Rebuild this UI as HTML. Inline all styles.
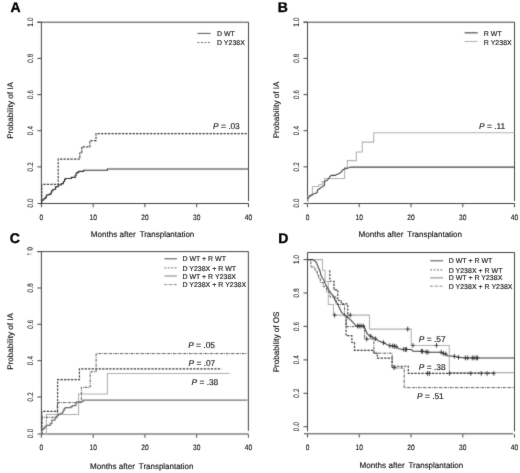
<!DOCTYPE html>
<html><head><meta charset="utf-8"><title>Figure</title>
<style>html,body{margin:0;padding:0;background:#fff;width:520px;height:473px;overflow:hidden;font-family:"Liberation Sans", sans-serif;}</style>
</head><body>
<div style="position:absolute;left:0;top:0;width:520px;height:473px;filter:grayscale(1)">
<svg width="520" height="473" viewBox="0 0 520 473" style="display:block" font-family='"Liberation Sans", sans-serif' text-rendering="geometricPrecision">
<defs><filter id="bl" x="-2%" y="-2%" width="104%" height="104%"><feConvolveMatrix order="3" kernelMatrix="0.0144 0.0912 0.0144 0.0912 0.5776 0.0912 0.0144 0.0912 0.0144" edgeMode="none"/></filter><filter id="bt" x="-2%" y="-2%" width="104%" height="104%"><feConvolveMatrix order="3" kernelMatrix="0.0049 0.0602 0.0049 0.0602 0.7396 0.0602 0.0049 0.0602 0.0049" edgeMode="none"/></filter></defs>
<rect width="520" height="473" fill="#fff"/>
<g filter="url(#bl)">
<path d="M37.4 22.2H248.5V201.0" fill="none" stroke="#444" stroke-width="1"/>
<path d="M37.6 203.5H248.8" fill="none" stroke="#444" stroke-width="1"/>
<path d="M41.4 22.2V201.0" fill="none" stroke="#444" stroke-width="1"/>
<path d="M37.4 166.9H41.4" stroke="#444" stroke-width="1"/>
<path d="M37.4 130.7H41.4" stroke="#444" stroke-width="1"/>
<path d="M37.4 94.6H41.4" stroke="#444" stroke-width="1"/>
<path d="M37.4 58.4H41.4" stroke="#444" stroke-width="1"/>
<path d="M37.4 22.2H41.4" stroke="#444" stroke-width="1"/>
<path d="M41.4 204.0V207.2" stroke="#444" stroke-width="1"/>
<path d="M93.2 204.0V207.2" stroke="#444" stroke-width="1"/>
<path d="M144.9 204.0V207.2" stroke="#444" stroke-width="1"/>
<path d="M196.7 204.0V207.2" stroke="#444" stroke-width="1"/>
<path d="M248.5 204.0V207.2" stroke="#444" stroke-width="1"/>
<path d="M303.5 22.2H514.5V201.0" fill="none" stroke="#444" stroke-width="1"/>
<path d="M303.7 203.5H514.8" fill="none" stroke="#444" stroke-width="1"/>
<path d="M307.5 22.2V201.0" fill="none" stroke="#444" stroke-width="1"/>
<path d="M303.5 166.9H307.5" stroke="#444" stroke-width="1"/>
<path d="M303.5 130.7H307.5" stroke="#444" stroke-width="1"/>
<path d="M303.5 94.6H307.5" stroke="#444" stroke-width="1"/>
<path d="M303.5 58.4H307.5" stroke="#444" stroke-width="1"/>
<path d="M303.5 22.2H307.5" stroke="#444" stroke-width="1"/>
<path d="M307.5 204.0V207.2" stroke="#444" stroke-width="1"/>
<path d="M359.2 204.0V207.2" stroke="#444" stroke-width="1"/>
<path d="M411.0 204.0V207.2" stroke="#444" stroke-width="1"/>
<path d="M462.8 204.0V207.2" stroke="#444" stroke-width="1"/>
<path d="M514.5 204.0V207.2" stroke="#444" stroke-width="1"/>
<path d="M37.4 251.6H248.4V430.8" fill="none" stroke="#444" stroke-width="1"/>
<path d="M37.6 434.0H248.7" fill="none" stroke="#444" stroke-width="1"/>
<path d="M41.4 251.6V430.8" fill="none" stroke="#444" stroke-width="1"/>
<path d="M37.4 397.0H41.4" stroke="#444" stroke-width="1"/>
<path d="M37.4 360.7H41.4" stroke="#444" stroke-width="1"/>
<path d="M37.4 324.3H41.4" stroke="#444" stroke-width="1"/>
<path d="M37.4 288.0H41.4" stroke="#444" stroke-width="1"/>
<path d="M37.4 251.6H41.4" stroke="#444" stroke-width="1"/>
<path d="M41.4 434.5V437.7" stroke="#444" stroke-width="1"/>
<path d="M93.2 434.5V437.7" stroke="#444" stroke-width="1"/>
<path d="M144.9 434.5V437.7" stroke="#444" stroke-width="1"/>
<path d="M196.7 434.5V437.7" stroke="#444" stroke-width="1"/>
<path d="M248.4 434.5V437.7" stroke="#444" stroke-width="1"/>
<path d="M307.5 431.4V252.5H514.5V431.4" fill="none" stroke="#444" stroke-width="1"/>
<path d="M304.0 433.8H513.2" fill="none" stroke="#444" stroke-width="1"/>
<path d="M303.5 426.7H307.5" stroke="#444" stroke-width="1"/>
<path d="M303.5 393.3H307.5" stroke="#444" stroke-width="1"/>
<path d="M303.5 359.9H307.5" stroke="#444" stroke-width="1"/>
<path d="M303.5 326.4H307.5" stroke="#444" stroke-width="1"/>
<path d="M303.5 293.0H307.5" stroke="#444" stroke-width="1"/>
<path d="M303.5 259.6H307.5" stroke="#444" stroke-width="1"/>
<path d="M307.5 434.3V437.5" stroke="#444" stroke-width="1"/>
<path d="M359.2 434.3V437.5" stroke="#444" stroke-width="1"/>
<path d="M411.0 434.3V437.5" stroke="#444" stroke-width="1"/>
<path d="M462.8 434.3V437.5" stroke="#444" stroke-width="1"/>
<path d="M514.5 434.3V437.5" stroke="#444" stroke-width="1"/>
<path d="M41.4 203.5H41.5V200.5H43.1V199.2H44.3V198.4H45.6V197.1H46.5V195.0H48.1V194.6H49.8V193.8H51.1V192.9H51.5V190.8H52.8V189.5H55.3V187.8H55.8V186.6H58.3V184.9H61.3V183.6H63.4V181.5H64.6V179.4H65.5V178.5H71.4V177.3H75.2V175.6H76.1V173.1H77.4V172.3H78.7V171.4H83.7V170.2H107.4V169.0H248.0V169.0" fill="none" stroke="#333" stroke-width="1.15"/>
<path d="M41.4 203.5H41.8V184.4H58.2V159.1H79.8V153.0H81.8V146.8H89.9V140.6H96.0V133.6H247.5V133.6" fill="none" stroke="#3a3a3a" stroke-width="1.15" stroke-dasharray="2.3 1.2"/>
<path d="M197.5 33.4H210.7" fill="none" stroke="#555" stroke-width="1"/>
<path d="M197.5 42.5H210.7" fill="none" stroke="#666" stroke-width="1" stroke-dasharray="1.9 1.6"/>
<path d="M307.5 203.5H308.0V195.6H312.4V186.5H318.8V184.8H322.3V181.6H324.6V178.4H344.5V167.5H347.3V160.6H356.3V151.9H362.3V142.1H373.7V132.8H514.3V132.8" fill="none" stroke="#b0b0b0" stroke-width="1.05"/>
<path d="M307.5 199.2 L309.5 196.5 L312.5 194.3 L315.0 193.5 L317.2 192.4 L317.5 189.9 L319.4 188.8 L321.6 187.1 L324.3 185.5 L324.6 181.6 L327.1 180.3 L328.9 178.4 L330.0 176.6 L331.2 175.4 L335.4 175.4 L337.1 174.3 L338.9 173.7 L341.3 171.9 L342.5 170.1 L344.8 168.9 L347.2 168.3 L349.6 167.5 L350.7 167.1" fill="none" stroke="#404040" stroke-width="1.1" stroke-linejoin="round"/>
<path d="M350.5 167.1H514.3" fill="none" stroke="#444" stroke-width="1.25"/>
<path d="M464.6 32.8H477.7" fill="none" stroke="#555" stroke-width="1.25"/>
<path d="M464.6 41.5H477.7" fill="none" stroke="#b0b0b0" stroke-width="1.05"/>
<ellipse cx="29.9" cy="248.8" rx="2.6" ry="1.25" fill="none" stroke="#222" stroke-width="0.9"/>
<circle cx="28.0" cy="254.2" r="0.75" fill="#111"/>
<path d="M28.6 254.1H32.2" stroke="#aaa" stroke-width="0.8"/>
<path d="M41.4 434.0H46.4V414.4H78.6V393.9H107.4V373.5H229.7V373.5" fill="none" stroke="#b0b0b0" stroke-width="1.05"/>
<path d="M41.4 434.0H41.9V417.3H57.3V402.6H81.4V387.3H90.2V371.8H96.1V353.6H247.5V353.6" fill="none" stroke="#484848" stroke-width="1" stroke-dasharray="2.5 1 0.8 1"/>
<path d="M41.4 434.0H41.8V411.4H57.6V379.6H79.4V368.8H221.5V368.8" fill="none" stroke="#3a3a3a" stroke-width="1.15" stroke-dasharray="2.3 1.2"/>
<path d="M41.4 434.0H41.5V430.7H42.5V429.5H43.5V428.3H44.6V427.1H45.8V426.0H46.6V425.3H50.2V423.7H51.8V420.1H55.0V418.1H56.0V416.5H57.4V415.5H58.6V414.2H60.6V413.5H62.2V412.5H63.2V410.3H64.2V408.6H65.2V407.6H71.0V406.7H72.3V405.7H75.0V405.4H75.9V402.7H76.9V401.8H82.1V401.1H83.5V400.1H247.5V400.1" fill="none" stroke="#707070" stroke-width="1.2"/>
<path d="M164.4 258.7H176.9" fill="none" stroke="#808080" stroke-width="1.4"/>
<path d="M164.4 267.9H176.9" fill="none" stroke="#666" stroke-width="1" stroke-dasharray="1.9 1.5"/>
<path d="M164.4 276.0H176.9" fill="none" stroke="#b4b4b4" stroke-width="1.7"/>
<path d="M164.4 284.6H176.9" fill="none" stroke="#777" stroke-width="1" stroke-dasharray="2.2 1 0.8 1"/>
<path d="M307.5 259.6H322.4V270.3H325.1V281.4H328.3V304.5H333.5V315.1H369.5V329.1H411.2V345.4H449.3V372.6H514.0V372.6" fill="none" stroke="#b0b0b0" stroke-width="1.05"/>
<path d="M307.5 259.6H310.8V267.0H315.0V270.9H317.2V274.6H318.6V278.3H320.3V282.5H323.2V286.7H326.7V292.0H330.0V297.0H336.0V304.5H344.5V315.0H346.1V326.6H364.6V339.0H373.9V353.2H392.1V368.0H404.2V387.6H514.0V387.6" fill="none" stroke="#484848" stroke-width="1" stroke-dasharray="2.5 1 0.8 1"/>
<path d="M329.8 270.3H329.8V281.2H334.0V289.9H337.8V300.5H341.3V303.9H347.7V319.2M346.1 319.2H346.1V335.6H351.9V342.5H354.5V350.3H373.9V353.2H377.3V358.1H392.1V366.2H408.3V373.4H494.5V373.4" fill="none" stroke="#3a3a3a" stroke-width="1.15" stroke-dasharray="2.3 1.2"/>
<path d="M307.5 259.6 L312.0 259.6 L313.1 259.8 L315.2 261.1 L316.4 262.6 L317.4 265.1 L318.2 267.2 L319.2 269.2 L320.2 271.7 L320.9 275.0 L322.3 277.8 L323.8 280.0 L325.0 283.4 L328.4 289.3 L330.5 292.5 L333.5 296.1 L335.0 300.2 L337.7 303.7 L339.2 307.6 L341.3 311.8 L344.0 315.0 L346.6 317.1 L348.7 318.2 L350.0 319.3 L356.3 326.0 L363.8 326.0 L365.6 330.0 L367.3 334.0 L370.8 336.3 L375.4 338.7 L377.7 340.4 L383.5 342.7 L389.2 345.6 L395.0 346.3 L397.3 347.1 L398.5 348.8 L403.1 349.4 L411.2 349.4 L412.9 351.2 L421.5 351.2 L428.5 352.3 L441.2 352.3 L443.5 353.5 L445.8 354.0 L447.5 355.8 L453.8 356.2 L458.5 357.3 L465.0 357.9 L514.0 357.9" fill="none" stroke="#3c3c3c" stroke-width="1.05" stroke-linejoin="round"/>
<path d="M357.5 323.6V328.4M355.6 326.0H359.4M359.2 323.6V328.4M357.3 326.0H361.1M361.0 323.6V328.4M359.1 326.0H362.9M363.3 323.6V328.4M361.4 326.0H365.2M370.8 333.9V338.7M368.9 336.3H372.7M375.4 336.3V341.1M373.5 338.7H377.3M383.5 340.3V345.1M381.6 342.7H385.4M389.8 343.3V348.1M387.9 345.7H391.7M392.7 343.6V348.4M390.8 346.0H394.6M394.4 343.8V348.6M392.5 346.2H396.3M396.2 344.3V349.1M394.3 346.7H398.1M403.7 347.0V351.8M401.8 349.4H405.6M405.4 347.0V351.8M403.5 349.4H407.3M406.5 347.0V351.8M404.6 349.4H408.4M421.5 348.8V353.6M419.6 351.2H423.4M422.7 349.0V353.8M420.8 351.4H424.6M426.2 349.5V354.3M424.3 351.9H428.1M427.9 349.8V354.6M426.0 352.2H429.8M441.2 349.9V354.7M439.3 352.3H443.1M443.5 351.1V355.9M441.6 353.5H445.4M445.8 351.6V356.4M443.9 354.0H447.7M454.4 353.9V358.7M452.5 356.3H456.3M458.5 354.9V359.7M456.6 357.3H460.4M465.4 355.5V360.3M463.5 357.9H467.3M467.7 355.5V360.3M465.8 357.9H469.6M472.3 355.5V360.3M470.4 357.9H474.2M474.0 355.5V360.3M472.1 357.9H475.9M476.3 355.5V360.3M474.4 357.9H478.2M477.5 355.5V360.3M475.6 357.9H479.4M427.5 371.0V375.8M425.6 373.4H429.4M429.4 371.0V375.8M427.5 373.4H431.3M449.6 371.0V375.8M447.7 373.4H451.5M470.8 371.0V375.8M468.9 373.4H472.7M481.3 371.0V375.8M479.4 373.4H483.2M487.1 371.0V375.8M485.2 373.4H489.0M493.8 371.0V375.8M491.9 373.4H495.7M334.6 312.7V317.5M332.7 315.1H336.5M350.3 312.7V317.5M348.4 315.1H352.2M407.7 326.7V331.5M405.8 329.1H409.6M412.9 343.0V347.8M411.0 345.4H414.8M436.5 343.0V347.8M434.6 345.4H438.4M366.7 336.6V341.4M364.8 339.0H368.6M394.1 365.2V370.0M392.2 367.6H396.0" fill="none" stroke="#333" stroke-width="0.9"/>
<path d="M430.2 260.7H443.1" fill="none" stroke="#808080" stroke-width="1.4"/>
<path d="M430.2 269.9H443.1" fill="none" stroke="#666" stroke-width="1" stroke-dasharray="1.9 1.5"/>
<path d="M430.2 277.8H443.1" fill="none" stroke="#b4b4b4" stroke-width="1.7"/>
<path d="M430.2 286.2H443.1" fill="none" stroke="#777" stroke-width="1" stroke-dasharray="2.2 1 0.8 1"/>
</g>
<g filter="url(#bt)">
<text x="10.50" y="12.00" font-size="14.00" text-anchor="start" style="font-weight:bold;" fill="#000" stroke="#000" stroke-width="0.35">A</text>
<text x="277.70" y="12.00" font-size="14.00" text-anchor="start" style="font-weight:bold;" fill="#000" stroke="#000" stroke-width="0.35">B</text>
<text x="9.80" y="243.20" font-size="14.00" text-anchor="start" style="font-weight:bold;" fill="#000" stroke="#000" stroke-width="0.35">C</text>
<text x="278.20" y="243.20" font-size="14.00" text-anchor="start" style="font-weight:bold;" fill="#000" stroke="#000" stroke-width="0.35">D</text>
<text transform="translate(32.50 202.90) rotate(-90) scale(0.870 1.100)" font-size="7.20" text-anchor="middle" style="" fill="#111" stroke="#111" stroke-width="0.04"letter-spacing="0.25">0.0</text>
<text transform="translate(32.50 166.72) rotate(-90) scale(0.870 1.100)" font-size="7.20" text-anchor="middle" style="" fill="#111" stroke="#111" stroke-width="0.04"letter-spacing="0.25">0.2</text>
<text transform="translate(32.50 130.54) rotate(-90) scale(0.870 1.100)" font-size="7.20" text-anchor="middle" style="" fill="#111" stroke="#111" stroke-width="0.04"letter-spacing="0.25">0.4</text>
<text transform="translate(32.50 94.36) rotate(-90) scale(0.870 1.100)" font-size="7.20" text-anchor="middle" style="" fill="#111" stroke="#111" stroke-width="0.04"letter-spacing="0.25">0.6</text>
<text transform="translate(32.50 58.18) rotate(-90) scale(0.870 1.100)" font-size="7.20" text-anchor="middle" style="" fill="#111" stroke="#111" stroke-width="0.04"letter-spacing="0.25">0.8</text>
<text transform="translate(32.50 22.00) rotate(-90) scale(0.870 1.100)" font-size="7.20" text-anchor="middle" style="" fill="#111" stroke="#111" stroke-width="0.04"letter-spacing="0.25">1.0</text>
<text transform="translate(41.40 219.60) scale(0.920 1.080)" font-size="7.20" text-anchor="middle" style="" fill="#111" stroke="#111" stroke-width="0.12">0</text>
<text transform="translate(93.17 219.60) scale(0.920 1.080)" font-size="7.20" text-anchor="middle" style="" fill="#111" stroke="#111" stroke-width="0.12">10</text>
<text transform="translate(144.95 219.60) scale(0.920 1.080)" font-size="7.20" text-anchor="middle" style="" fill="#111" stroke="#111" stroke-width="0.12">20</text>
<text transform="translate(196.72 219.60) scale(0.920 1.080)" font-size="7.20" text-anchor="middle" style="" fill="#111" stroke="#111" stroke-width="0.12">30</text>
<text transform="translate(248.50 219.60) scale(0.920 1.080)" font-size="7.20" text-anchor="middle" style="" fill="#111" stroke="#111" stroke-width="0.12">40</text>
<text x="90.70" y="237.30" font-size="8.10" text-anchor="start" style="" fill="#111" stroke="#111" stroke-width="0.14">Months after</text>
<text transform="translate(139.65 237.30) scale(0.984 1.000)" font-size="8.10" text-anchor="start" style="" fill="#111" stroke="#111" stroke-width="0.14">Transplantation</text>
<text transform="translate(12.80 110.50) rotate(-90)" font-size="8.10" text-anchor="middle" style="" fill="#111" stroke="#111" stroke-width="0.14">Probability of IA</text>
<text transform="translate(298.60 202.90) rotate(-90) scale(0.870 1.100)" font-size="7.20" text-anchor="middle" style="" fill="#111" stroke="#111" stroke-width="0.04"letter-spacing="0.25">0.0</text>
<text transform="translate(298.60 166.72) rotate(-90) scale(0.870 1.100)" font-size="7.20" text-anchor="middle" style="" fill="#111" stroke="#111" stroke-width="0.04"letter-spacing="0.25">0.2</text>
<text transform="translate(298.60 130.54) rotate(-90) scale(0.870 1.100)" font-size="7.20" text-anchor="middle" style="" fill="#111" stroke="#111" stroke-width="0.04"letter-spacing="0.25">0.4</text>
<text transform="translate(298.60 94.36) rotate(-90) scale(0.870 1.100)" font-size="7.20" text-anchor="middle" style="" fill="#111" stroke="#111" stroke-width="0.04"letter-spacing="0.25">0.6</text>
<text transform="translate(298.60 58.18) rotate(-90) scale(0.870 1.100)" font-size="7.20" text-anchor="middle" style="" fill="#111" stroke="#111" stroke-width="0.04"letter-spacing="0.25">0.8</text>
<text transform="translate(298.60 22.00) rotate(-90) scale(0.870 1.100)" font-size="7.20" text-anchor="middle" style="" fill="#111" stroke="#111" stroke-width="0.04"letter-spacing="0.25">1.0</text>
<text transform="translate(307.50 219.60) scale(0.920 1.080)" font-size="7.20" text-anchor="middle" style="" fill="#111" stroke="#111" stroke-width="0.12">0</text>
<text transform="translate(359.25 219.60) scale(0.920 1.080)" font-size="7.20" text-anchor="middle" style="" fill="#111" stroke="#111" stroke-width="0.12">10</text>
<text transform="translate(411.00 219.60) scale(0.920 1.080)" font-size="7.20" text-anchor="middle" style="" fill="#111" stroke="#111" stroke-width="0.12">20</text>
<text transform="translate(462.75 219.60) scale(0.920 1.080)" font-size="7.20" text-anchor="middle" style="" fill="#111" stroke="#111" stroke-width="0.12">30</text>
<text transform="translate(514.50 219.60) scale(0.920 1.080)" font-size="7.20" text-anchor="middle" style="" fill="#111" stroke="#111" stroke-width="0.12">40</text>
<text x="358.40" y="236.80" font-size="8.10" text-anchor="start" style="" fill="#111" stroke="#111" stroke-width="0.14">Months after</text>
<text transform="translate(407.35 236.80) scale(0.984 1.000)" font-size="8.10" text-anchor="start" style="" fill="#111" stroke="#111" stroke-width="0.14">Transplantation</text>
<text transform="translate(278.90 110.00) rotate(-90)" font-size="8.10" text-anchor="middle" style="" fill="#111" stroke="#111" stroke-width="0.14">Probability of IA</text>
<text transform="translate(32.50 433.20) rotate(-90) scale(0.870 1.100)" font-size="7.20" text-anchor="middle" style="" fill="#111" stroke="#111" stroke-width="0.04"letter-spacing="0.25">0.0</text>
<text transform="translate(32.50 396.84) rotate(-90) scale(0.870 1.100)" font-size="7.20" text-anchor="middle" style="" fill="#111" stroke="#111" stroke-width="0.04"letter-spacing="0.25">0.2</text>
<text transform="translate(32.50 360.48) rotate(-90) scale(0.870 1.100)" font-size="7.20" text-anchor="middle" style="" fill="#111" stroke="#111" stroke-width="0.04"letter-spacing="0.25">0.4</text>
<text transform="translate(32.50 324.12) rotate(-90) scale(0.870 1.100)" font-size="7.20" text-anchor="middle" style="" fill="#111" stroke="#111" stroke-width="0.04"letter-spacing="0.25">0.6</text>
<text transform="translate(32.50 287.76) rotate(-90) scale(0.870 1.100)" font-size="7.20" text-anchor="middle" style="" fill="#111" stroke="#111" stroke-width="0.04"letter-spacing="0.25">0.8</text>
<text transform="translate(41.40 449.50) scale(0.920 1.080)" font-size="7.20" text-anchor="middle" style="" fill="#111" stroke="#111" stroke-width="0.12">0</text>
<text transform="translate(93.15 449.50) scale(0.920 1.080)" font-size="7.20" text-anchor="middle" style="" fill="#111" stroke="#111" stroke-width="0.12">10</text>
<text transform="translate(144.90 449.50) scale(0.920 1.080)" font-size="7.20" text-anchor="middle" style="" fill="#111" stroke="#111" stroke-width="0.12">20</text>
<text transform="translate(196.65 449.50) scale(0.920 1.080)" font-size="7.20" text-anchor="middle" style="" fill="#111" stroke="#111" stroke-width="0.12">30</text>
<text transform="translate(248.40 449.50) scale(0.920 1.080)" font-size="7.20" text-anchor="middle" style="" fill="#111" stroke="#111" stroke-width="0.12">40</text>
<text x="89.90" y="468.50" font-size="8.10" text-anchor="start" style="" fill="#111" stroke="#111" stroke-width="0.14">Months after</text>
<text transform="translate(138.85 468.50) scale(0.984 1.000)" font-size="8.10" text-anchor="start" style="" fill="#111" stroke="#111" stroke-width="0.14">Transplantation</text>
<text transform="translate(12.80 341.50) rotate(-90)" font-size="8.10" text-anchor="middle" style="" fill="#111" stroke="#111" stroke-width="0.14">Probability of IA</text>
<text transform="translate(298.60 426.50) rotate(-90) scale(0.870 1.100)" font-size="7.20" text-anchor="middle" style="" fill="#111" stroke="#111" stroke-width="0.04"letter-spacing="0.25">0.0</text>
<text transform="translate(298.60 393.08) rotate(-90) scale(0.870 1.100)" font-size="7.20" text-anchor="middle" style="" fill="#111" stroke="#111" stroke-width="0.04"letter-spacing="0.25">0.2</text>
<text transform="translate(298.60 359.66) rotate(-90) scale(0.870 1.100)" font-size="7.20" text-anchor="middle" style="" fill="#111" stroke="#111" stroke-width="0.04"letter-spacing="0.25">0.4</text>
<text transform="translate(298.60 326.24) rotate(-90) scale(0.870 1.100)" font-size="7.20" text-anchor="middle" style="" fill="#111" stroke="#111" stroke-width="0.04"letter-spacing="0.25">0.6</text>
<text transform="translate(298.60 292.82) rotate(-90) scale(0.870 1.100)" font-size="7.20" text-anchor="middle" style="" fill="#111" stroke="#111" stroke-width="0.04"letter-spacing="0.25">0.8</text>
<text transform="translate(298.60 259.40) rotate(-90) scale(0.870 1.100)" font-size="7.20" text-anchor="middle" style="" fill="#111" stroke="#111" stroke-width="0.04"letter-spacing="0.25">1.0</text>
<text transform="translate(307.50 449.90) scale(0.920 1.080)" font-size="7.20" text-anchor="middle" style="" fill="#111" stroke="#111" stroke-width="0.12">0</text>
<text transform="translate(359.25 449.90) scale(0.920 1.080)" font-size="7.20" text-anchor="middle" style="" fill="#111" stroke="#111" stroke-width="0.12">10</text>
<text transform="translate(411.00 449.90) scale(0.920 1.080)" font-size="7.20" text-anchor="middle" style="" fill="#111" stroke="#111" stroke-width="0.12">20</text>
<text transform="translate(462.75 449.90) scale(0.920 1.080)" font-size="7.20" text-anchor="middle" style="" fill="#111" stroke="#111" stroke-width="0.12">30</text>
<text transform="translate(514.50 449.90) scale(0.920 1.080)" font-size="7.20" text-anchor="middle" style="" fill="#111" stroke="#111" stroke-width="0.12">40</text>
<text x="359.60" y="468.30" font-size="8.10" text-anchor="start" style="" fill="#111" stroke="#111" stroke-width="0.14">Months after</text>
<text transform="translate(408.55 468.30) scale(0.984 1.000)" font-size="8.10" text-anchor="start" style="" fill="#111" stroke="#111" stroke-width="0.14">Transplantation</text>
<text transform="translate(278.90 342.00) rotate(-90)" font-size="8.10" text-anchor="middle" style="" fill="#111" stroke="#111" stroke-width="0.14">Probability of OS</text>
<text x="217.00" y="36.30" font-size="7.00" text-anchor="start" style="" fill="#111" stroke="#111" stroke-width="0.13">D WT</text>
<text x="217.00" y="44.90" font-size="7.00" text-anchor="start" style="" fill="#111" stroke="#111" stroke-width="0.13">D Y238X</text>
<text x="213.00" y="129.20" font-size="8.40" text-anchor="start" style="" fill="#111" stroke="#111" stroke-width="0.12"><tspan font-style="italic">P</tspan> = .03</text>
<text x="483.80" y="35.70" font-size="7.00" text-anchor="start" style="" fill="#111" stroke="#111" stroke-width="0.13">R WT</text>
<text x="483.80" y="44.60" font-size="7.00" text-anchor="start" style="" fill="#111" stroke="#111" stroke-width="0.13">R Y238X</text>
<text x="479.00" y="129.00" font-size="8.40" text-anchor="start" style="" fill="#111" stroke="#111" stroke-width="0.12"><tspan font-style="italic">P</tspan> = .11</text>
<text x="182.40" y="261.30" font-size="7.00" text-anchor="start" style="" fill="#111" stroke="#111" stroke-width="0.13">D WT + R WT</text>
<text x="182.40" y="270.50" font-size="7.00" text-anchor="start" style="" fill="#111" stroke="#111" stroke-width="0.13">D Y238X + R WT</text>
<text x="182.40" y="278.60" font-size="7.00" text-anchor="start" style="" fill="#111" stroke="#111" stroke-width="0.13">D WT + R Y238X</text>
<text x="182.40" y="287.20" font-size="7.00" text-anchor="start" style="" fill="#111" stroke="#111" stroke-width="0.13">D Y238X + R Y238X</text>
<text x="188.20" y="348.20" font-size="8.40" text-anchor="start" style="" fill="#111" stroke="#111" stroke-width="0.12"><tspan font-style="italic">P</tspan> = .05</text>
<text x="188.50" y="365.70" font-size="8.40" text-anchor="start" style="" fill="#111" stroke="#111" stroke-width="0.12"><tspan font-style="italic">P</tspan> = .07</text>
<text x="191.50" y="384.60" font-size="8.40" text-anchor="start" style="" fill="#111" stroke="#111" stroke-width="0.12"><tspan font-style="italic">P</tspan> = .38</text>
<text x="448.70" y="263.30" font-size="7.00" text-anchor="start" style="" fill="#111" stroke="#111" stroke-width="0.13">D WT + R WT</text>
<text x="448.70" y="272.50" font-size="7.00" text-anchor="start" style="" fill="#111" stroke="#111" stroke-width="0.13">D Y238X + R WT</text>
<text x="448.70" y="280.40" font-size="7.00" text-anchor="start" style="" fill="#111" stroke="#111" stroke-width="0.13">D WT + R Y238X</text>
<text x="448.70" y="288.80" font-size="7.00" text-anchor="start" style="" fill="#111" stroke="#111" stroke-width="0.13">D Y238X + R Y238X</text>
<text x="418.80" y="342.10" font-size="8.40" text-anchor="start" style="" fill="#111" stroke="#111" stroke-width="0.12"><tspan font-style="italic">P</tspan> = .57</text>
<text x="418.80" y="369.60" font-size="8.40" text-anchor="start" style="" fill="#111" stroke="#111" stroke-width="0.12"><tspan font-style="italic">P</tspan> = .38</text>
<text x="417.00" y="398.60" font-size="8.40" text-anchor="start" style="" fill="#111" stroke="#111" stroke-width="0.12"><tspan font-style="italic">P</tspan> = .51</text>
</g>
</svg>
</div>
</body></html>
